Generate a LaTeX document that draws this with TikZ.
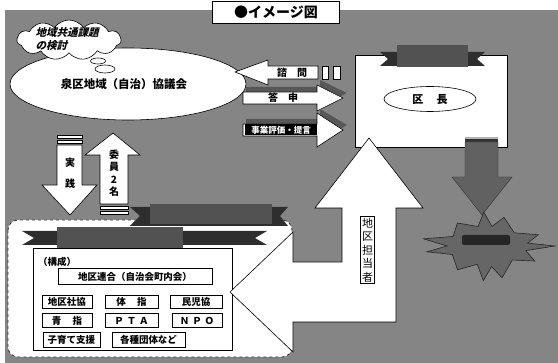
\documentclass[tikz,border=0pt]{standalone}
\usepackage{fontspec}
\setmainfont{Noto Sans CJK JP}
\newfontfamily\jpsl{Noto Sans CJK JP}[FakeSlant=0.25]
\usetikzlibrary{shapes.symbols,shapes.geometric}
\tikzset{
  bgfill/.style={fill=black!48},
  wshape/.style={draw=black, fill=white, line width=0.6pt},
  lbl/.style={inner sep=0pt, font=\bfseries\fontsize{10}{11}\selectfont},
  item/.style={draw=black, fill=white, line width=0.6pt, inner sep=0pt, font=\bfseries\fontsize{9.5}{10}\selectfont},
  ribtail/.style={fill=black!82},
  ribband/.style={fill=black!68},
  shadow/.style={fill=black!66},
}
\begin{document}
\begin{tikzpicture}[x=1pt,y=-1pt]
\useasboundingbox (0,0) rectangle (558,363);
\fill[white] (0,0) rectangle (558,363);
\fill[bgfill] (5,10) rectangle (558,363);

% title
\node[wshape, minimum width=127pt, minimum height=22pt, inner sep=0pt,
  font=\bfseries\fontsize{14}{14}\selectfont] (title) at (276,12) {●イメージ図};

% main ellipse
\node[wshape, ellipse, minimum width=236pt, minimum height=72pt] (kyogikai) at (128,84) {};
\node[lbl, font=\bfseries\fontsize{11.5}{12}\selectfont] (kyogikaiT) at (124,84) {泉区地域（自治）協議会};

% thought cloud
\node[wshape, cloud, cloud puffs=11, cloud puff arc=110, aspect=2.7,
  minimum width=104pt, minimum height=40pt, inner sep=0pt] (cloud) at (69,40) {};
\node[inner sep=0pt, align=left, font=\jpsl\bfseries\fontsize{10.5}{13}\selectfont] (cloudT) at (67,39) {地域共通課題\\の検討};
\node[wshape, ellipse, minimum width=15pt, minimum height=6pt, inner sep=0pt] (bub1) at (98,61) {};
\node[wshape, ellipse, minimum width=20pt, minimum height=8pt, inner sep=0pt] (bub2) at (105,69) {};

% 諮問 arrow (left)
\draw[wshape] (235,72) -- (268,60) -- (268,66) -- (318,66) -- (318,79) -- (268,79) -- (268,85) -- cycle;
\draw[wshape] (322,66) rectangle (328,79);
\draw[wshape] (333,66) rectangle (340,79);
\node[lbl] (shimon) at (292,72.5) {諮\hspace{1em}問};

% 答申 arrow (right) with shadow
\fill[shadow] (246,87) -- (320,87) -- (320,80) -- (347,93) -- (320,106) -- (320,99) -- (246,99) -- cycle;
\draw[wshape] (243,92) -- (317,92) -- (317,85) -- (343,98) -- (317,111) -- (317,104) -- (243,104) -- cycle;
\node[lbl] (toshin) at (283,98) {答\hspace{1em}申};

% 事業評価・提言 arrow (right) with shadow
\fill[shadow] (246,119) -- (320,119) -- (320,109) -- (347,125) -- (320,141) -- (320,131) -- (246,131) -- cycle;
\draw[wshape] (243,124) -- (317,124) -- (317,113) -- (343,130) -- (317,147) -- (317,136) -- (243,136) -- cycle;
\node[fill=black, text=white, inner sep=1pt, minimum width=72pt, minimum height=11pt,
  font=\bfseries\fontsize{8.5}{9}\selectfont] (teigen) at (281,130) {事業評価・提言};

% 区長 box
\node[wshape, minimum width=152pt, minimum height=92pt, inner sep=0pt] (kuyakusho) at (431,101) {};
\fill[ribtail] (380,52) -- (485,52) -- (477,59) -- (485,66) -- (380,66) -- (388,59) -- cycle;
\fill[ribband] (397,45) rectangle (468,67);
\node[wshape, ellipse, minimum width=92pt, minimum height=25pt, inner sep=0pt,
  font=\bfseries\fontsize{11}{12}\selectfont] (kucho) at (430,99) {区\hspace{1.2em}長};

% dark down arrow
\fill[black!30] (465,137) rectangle (498,139);
\fill[black!80] (465,139) rectangle (498,142);
\draw[fill=black!62, draw=black!80] (465,142) -- (498,142) -- (498,177) -- (512,177) -- (482,215) -- (452,177) -- (465,177) -- cycle;

% starburst
\begin{scope}[shift={(487,246)}]
\draw[fill=black!60, draw=black!85, line width=0.6pt]
  (0:68 and 30) -- (14:40 and 19) -- (28:54 and 32) -- (42:34 and 21) -- (62:32 and 36)
  -- (78:22 and 21) -- (98:26 and 35) -- (114:24 and 20) -- (132:44 and 32) -- (150:40 and 17)
  -- (166:62 and 24) -- (180:40 and 13) -- (196:66 and 26) -- (212:40 and 18) -- (230:46 and 30)
  -- (248:24 and 21) -- (264:30 and 34) -- (282:24 and 20) -- (300:34 and 33) -- (316:38 and 19)
  -- (332:58 and 24) -- (346:42 and 12) -- cycle;
\end{scope}
\fill[black!85, rounded corners=2pt] (462,235) rectangle (510,245);

% 実践 arrow (down)
\draw[wshape] (57,135) rectangle (82,138);
\draw[wshape] (57,140) rectangle (82,143);
\draw[wshape] (57,145) -- (82,145) -- (82,185) -- (97,185) -- (70,215) -- (42,185) -- (57,185) -- cycle;
\node[lbl] (jitsu) at (70,163) {実};
\node[lbl] (sen) at (70,184) {践};

% 委員2名 arrow (up)
\draw[wshape] (113,133) -- (140,155) -- (128,155) -- (128,204) -- (100,204) -- (100,155) -- (85,155) -- cycle;
\draw[wshape] (100,206) rectangle (128,209);
\draw[wshape] (100,211) rectangle (128,214);
\node[lbl, align=center, font=\bfseries\fontsize{10}{12.5}\selectfont] (iin) at (114,173) {委\\員\\2\\名};

% lower white region
\draw[fill=white, draw=black!80, dashed, line width=0.8pt, rounded corners=10pt] (8,220) rectangle (292,357);

% ribbons of lower region
\fill[ribtail] (130,207) -- (288,207) -- (280,216) -- (288,226) -- (130,226) -- (140,216) -- cycle;
\fill[ribband] (150,204) rectangle (272,224);
\fill[ribtail] (22,231) -- (267,231) -- (255,238) -- (267,245) -- (22,245) -- (34,238) -- cycle;
\fill[ribband] (57,227) rectangle (183,249);

% inner box
\node[draw=black, line width=0.6pt, minimum width=199pt, minimum height=102pt, inner sep=0pt] (chiku) at (132.5,299) {};
\node[lbl, font=\bfseries\fontsize{9.5}{10}\selectfont, anchor=west] (kosei) at (38,262) {（構成）};
\node[item, minimum width=154pt, minimum height=16pt] (rengo) at (135,276.5) {地区連合（自治会町内会）};
\node[item, minimum width=50pt, minimum height=13pt] (shakyo) at (67,301.5) {地区社協};
\node[item, minimum width=53pt, minimum height=13pt] (taishi) at (131.5,301.5) {体\hspace{1.2em}指};
\node[item, minimum width=52pt, minimum height=13pt] (minji) at (196,301.5) {民児協};
\node[item, minimum width=50pt, minimum height=14pt] (seishi) at (67,320.5) {青\hspace{1.2em}指};
\node[item, minimum width=53pt, minimum height=14pt] (pta) at (131.5,320.5) {Ｐ\hspace{0.3em}Ｔ\hspace{0.3em}Ａ};
\node[item, minimum width=50pt, minimum height=14pt] (npo) at (197,320.5) {Ｎ\hspace{0.3em}Ｐ\hspace{0.3em}Ｏ};
\node[item, minimum width=57pt, minimum height=15pt] (kosodate) at (71.5,339.5) {子育て支援};
\node[item, minimum width=73pt, minimum height=15pt] (kakushu) at (148.5,339.5) {各種団体など};

% big bent arrow 地区担当者
\draw[wshape] (230,292) -- (293,232) -- (293,262) -- (342,262) -- (342,208) -- (315,208) -- (369,138)
  -- (423,208) -- (396,208) -- (396,322) -- (293,322) -- (293,352) -- cycle;
\node[draw=black, fill=white, line width=0.6pt, inner sep=1.5pt, align=center,
  font=\fontsize{11}{13.5}\selectfont] (tanto) at (367.5,250) {地\\区\\担\\当\\者};
\end{tikzpicture}
\end{document}
